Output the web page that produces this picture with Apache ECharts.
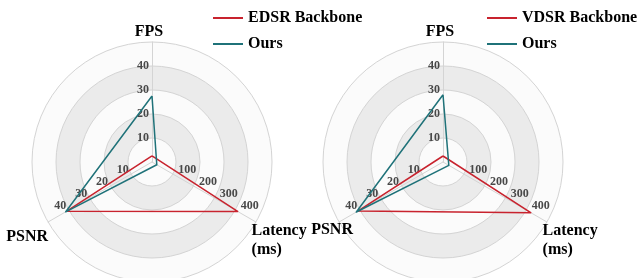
<!DOCTYPE html>
<html>
<head>
<meta charset="utf-8">
<script src="https://cdn.jsdelivr.net/npm/echarts@6/dist/echarts.min.js"></script>
<style>
html, body { margin: 0; padding: 0; background: #fff; }
#chart { width: 639px; height: 278px; }
</style>
</head>
<body>
<div id="chart"></div>
<script>
// indicators, counter-clockwise from the top
const axisNames = ['FPS', 'PSNR', 'Latency\n(ms)']
const axisMax = [50, 50, 500]

// [FPS, PSNR, Latency]
const edsrBackbone = [2.6, 41, 412]
const edsrOurs = [27.5, 41.5, 23]
const vdsrBackbone = [2.5, 40.8, 422]
const vdsrOurs = [28, 41.7, 28]

const leftNames = ['EDSR Backbone', 'Ours']
const rightNames = ['VDSR Backbone', 'Ours']

const RED = '#c8232e'
const TEAL = '#1f7279'
const FONT = 'Liberation Serif'

// per-axis placement of the name and tick labels
const fpsLook = { nameGap: 1, nameTextStyle: { padding: [0, 6, 0, 0] },
  axisLabel: { margin: 3, align: 'right', verticalAlign: 'middle', padding: [0, 0, 8, 0] } }
const psnrLabel = { margin: -5, align: 'right', verticalAlign: 'middle', padding: [0, 0, 2, 0] }
const latencyLook = { nameGap: -5, nameTextStyle: { align: 'left', verticalAlign: 'top', padding: [2, 0, 0, 0] },
  axisLabel: { margin: 5, align: 'left', verticalAlign: 'middle', padding: [0, 0, 0, 3] } }

const leftLook = [
  fpsLook,
  { nameGap: 0, nameTextStyle: { align: 'right', verticalAlign: 'top', padding: [5, 0, 0, 0] }, axisLabel: psnrLabel },
  latencyLook
]
// on the right plot the PSNR name sits further in
const rightLook = [
  fpsLook,
  { nameGap: -16, nameTextStyle: { align: 'right', verticalAlign: 'top', padding: [6, 0, 0, 0] }, axisLabel: psnrLabel },
  latencyLook
]

function makeRadar(cx, look){
  return {
    center: [cx, 162],
    radius: 120,
    startAngle: 90,
    splitNumber: 5,
    shape: 'circle',
    indicator: axisNames.map((n, i) => Object.assign({ name: n, min: 0, max: axisMax[i] }, look[i])),
    axisName: {
      color: '#000',
      fontFamily: FONT,
      fontWeight: 'bold',
      fontSize: 16,
      lineHeight: 19
    },
    axisLine: { lineStyle: { color: '#d4d4d4' } },
    splitLine: { lineStyle: { color: '#d4d4d4' } },
    splitArea: { areaStyle: { color: ['#fbfbfb', '#ebebeb'] } },
    axisTick: { show: false },
    axisLabel: {
      show: true,
      color: '#484848',
      fontFamily: FONT,
      fontWeight: 'bold',
      fontSize: 12,
      formatter: function(v){
        return (v === 0 || v === 50 || v === 500) ? '' : v
      }
    }
  }
}

function makeLegend(left, names){
  return {
    left: left,
    top: 10,
    padding: 0,
    orient: 'vertical',
    icon: 'rect',
    itemWidth: 30,
    itemHeight: 2,
    itemGap: 10,
    data: names,
    textStyle: { color: '#000', fontFamily: FONT, fontWeight: 'bold', fontSize: 16 }
  }
}

function makeSeries(radarIndex, names, backbone, ours){
  return {
    type: 'radar',
    radarIndex: radarIndex,
    symbol: 'none',
    data: [
      { name: names[0], value: backbone, lineStyle: { color: RED, width: 1.5 }, itemStyle: { color: RED } },
      { name: names[1], value: ours, lineStyle: { color: TEAL, width: 1.5 }, itemStyle: { color: TEAL } }
    ]
  }
}

const chart = echarts.init(document.getElementById('chart'))
chart.setOption({
  animation: false,
  backgroundColor: '#fff',
  legend: [makeLegend(213, leftNames), makeLegend(487, rightNames)],
  radar: [makeRadar(152, leftLook), makeRadar(443, rightLook)],
  series: [
    makeSeries(0, leftNames, edsrBackbone, edsrOurs),
    makeSeries(1, rightNames, vdsrBackbone, vdsrOurs)
  ]
})
</script>
</body>
</html>
